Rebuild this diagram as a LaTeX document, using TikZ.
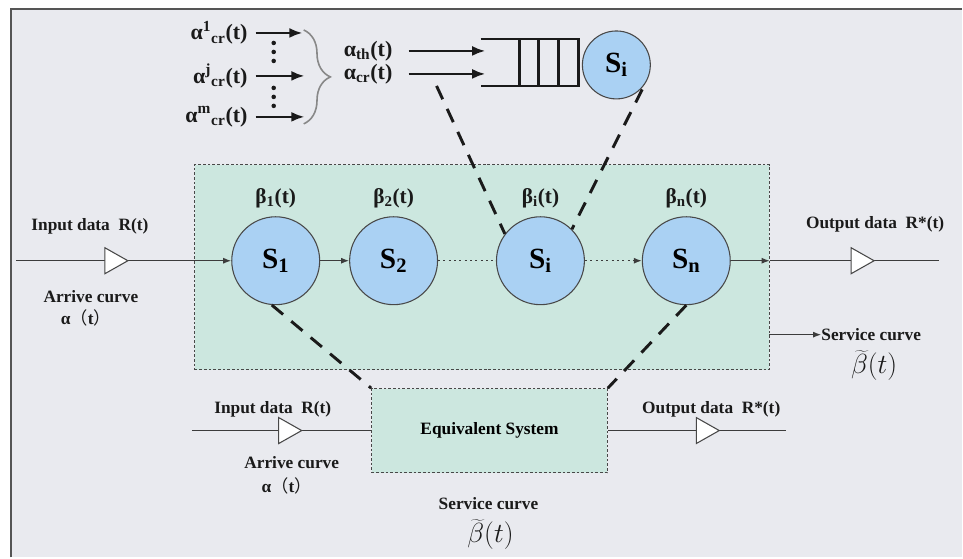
\documentclass[tikz,border=0pt]{standalone}
\usepackage{fontspec}
\setmainfont{Liberation Serif}
\newfontfamily\cjk{Noto Sans CJK SC}
\usetikzlibrary{arrows.meta,decorations.pathreplacing,calc}

\definecolor{bgc}{HTML}{E9EAEF}
\definecolor{boxc}{HTML}{CCE7DF}
\definecolor{srvc}{HTML}{AAD1F3}
\definecolor{framec}{HTML}{555555}
\definecolor{inkc}{HTML}{1A1A1A}
\definecolor{bracec}{HTML}{888888}

\newcommand{\fwp}[1]{{\cjk\mdseries（}#1{\cjk\mdseries）}}

\begin{document}
\begin{tikzpicture}[x=0.75pt,y=-0.75pt,
  srv/.style={circle,draw=inkc!80,line width=0.8pt,fill=srvc,
    minimum size=66pt,inner sep=0pt,font=\fontsize{22}{22}\selectfont\bfseries},
  lbl/.style={font=\fontsize{13}{15}\selectfont\bfseries,inner sep=0pt,text=inkc},
  blbl/.style={font=\fontsize{16}{18}\selectfont\bfseries,inner sep=0pt,text=inkc},
  albl/.style={font=\fontsize{16.5}{18}\selectfont\bfseries,inner sep=0pt,text=inkc},
  mlbl/.style={font=\fontsize{21}{23}\selectfont,inner sep=0pt,text=inkc},
  flow/.style={line width=0.9pt,draw=inkc!85},
  tip/.style={-{Latex[length=6pt,width=4.5pt]}},
  fat/.style={line width=2pt,draw=inkc,-{Latex[length=10pt,width=7.5pt]}},
  dotted line/.style={flow,dash pattern=on 1.5pt off 2.5pt},
  link/.style={line width=2.2pt,draw=inkc,dash pattern=on 11pt off 8pt},
  grpbox/.style={draw=inkc!80,line width=0.7pt,dash pattern=on 2pt off 1.5pt,fill=boxc},
  qline/.style={line width=2pt,draw=inkc},
  tri/.pic={\draw[fill=white,draw=inkc!80,line width=0.8pt] (-11,-13) -- (12,0) -- (-11,13) -- cycle;}
]
% canvas and frame
\fill[white] (0,0) rectangle (963,558);
\fill[bgc] (11,9) rectangle (963,558);
\draw[framec,line width=1.5pt] (11,558) -- (11,9) -- (963,9);

% group of servers
\node[grpbox,minimum width=431.25pt,minimum height=153.75pt,inner sep=0pt] (grp) at (482.5,267.5) {};

% equivalent system
\node[grpbox,minimum width=177pt,minimum height=63pt,inner sep=0pt,
      font=\fontsize{13}{15}\selectfont\bfseries] (eq) at (490,431) {Equivalent System};

% servers
\node[srv] (S1) at (276,261) {S\textsubscript{1}};
\node[srv] (S2) at (394,261) {S\textsubscript{2}};
\node[srv] (Si) at (541,261) {S\textsubscript{i}};
\node[srv] (Sn) at (687,261) {S\textsubscript{n}};

\node[blbl] (b1) at (276,198) {β\textsubscript{1}(t)};
\node[blbl] (b2) at (394,198) {β\textsubscript{2}(t)};
\node[blbl] (bi) at (541,198) {β\textsubscript{i}(t)};
\node[blbl] (bn) at (687,198) {β\textsubscript{n}(t)};

% main flow
\coordinate (in0) at (16,261);
\coordinate (out0) at (940,261);
\draw[flow,tip] (in0) -- (S1);
\draw[flow,tip] (S1) -- (S2);
\draw[dotted line] (S2) -- (Si);
\draw[dotted line,tip] (Si) -- (Sn);
\draw[flow,tip] (Sn) -- (grp.east |- Sn);
\draw[flow] (grp.east |- Sn) -- (out0);
\pic at (116,261) {tri};
\pic at (863,261) {tri};

\node[lbl] (inl) at (90,227) {Input data~~R(t)};
\node[lbl] (arl) at (91,297) {Arrive curve};
\node[lbl] (aal) at (86,318) {α\fwp{t}};
\node[lbl] (outl) at (876,225) {Output data~~R*(t)};

% service curve of the group
\coordinate (sv0) at (770,335);
\node[lbl,anchor=west] (svl) at (822,335) {Service curve};
\draw[flow,tip] (sv0) -- (svl.west);
\node[mlbl] (svb) at (875,366) {$\widetilde{\beta}(t)$};

% equivalent flow
\coordinate (ein) at (192,431);
\coordinate (eout) at (787,431);
\draw[flow] (ein) -- (eq.west);
\draw[flow] (eq.east) -- (eout);
\pic at (290,431) {tri};
\pic at (708,431) {tri};
\node[lbl] (einl) at (273,410) {Input data~~R(t)};
\node[lbl] (earl) at (292,463) {Arrive curve};
\node[lbl] (eaal) at (287,486) {α\fwp{t}};
\node[lbl] (eoutl) at (712,410) {Output data~~R*(t)};
\node[lbl] (esvl) at (489,504) {Service curve};
\node[mlbl] (esvb) at (491,535) {$\widetilde{\beta}(t)$};

% links from servers to the equivalent system
\draw[link] (S1.265) -- (eq.north west);
\draw[link] (Sn.270) -- (eq.north east);

% queue feeding server i
\draw[qline] (481,39) -- (579,39) -- (579,86) -- (481,86);
\foreach \qx in {520,539,559} \draw[qline] (\qx,39) -- (\qx,86);
\node[srv,minimum size=51pt,font=\fontsize{22}{22}\selectfont\bfseries] (Sq) at (617,65) {S\textsubscript{i}};
\coordinate (qa1) at (486,51);
\coordinate (qa2) at (486,74);
\node[albl,anchor=east] (ath) at (393,51) {α\textsubscript{th}(t)};
\node[albl,anchor=east] (acr) at (393,74) {α\textsubscript{cr}(t)};
\draw[fat,shorten <=12pt] (ath.east) -- (qa1);
\draw[fat,shorten <=12pt] (acr.east) -- (qa2);
\coordinate (qd) at (437,86);
\draw[link] (qd) -- (Si.143);
\draw[link,shorten <=4pt] (Sq.-35) -- (Si.45);

% critical flows aggregated by the brace
\node[albl,anchor=east] (a1) at (248,33) {α\textsuperscript{1}\textsubscript{cr}(t)};
\node[albl,anchor=east] (aj) at (248,76) {α\textsuperscript{j}\textsubscript{cr}(t)};
\node[albl,anchor=east] (am) at (248,117) {α\textsuperscript{m}\textsubscript{cr}(t)};
\coordinate (e1) at (303,33);
\coordinate (ej) at (305,76);
\coordinate (em) at (305,117);
\draw[fat,shorten <=6pt] (a1.east) -- (e1);
\draw[fat,shorten <=6pt] (aj.east) -- (ej);
\draw[fat,shorten <=6pt] (am.east) -- (em);
\foreach \dy in {43,52,61,88,97,106} \fill[inkc] (274,\dy) circle (1.7pt);
\draw[bracec,line width=1.2pt,decorate,decoration={brace,amplitude=20pt}] (304,30) -- (304,124);
\end{tikzpicture}
\end{document}
